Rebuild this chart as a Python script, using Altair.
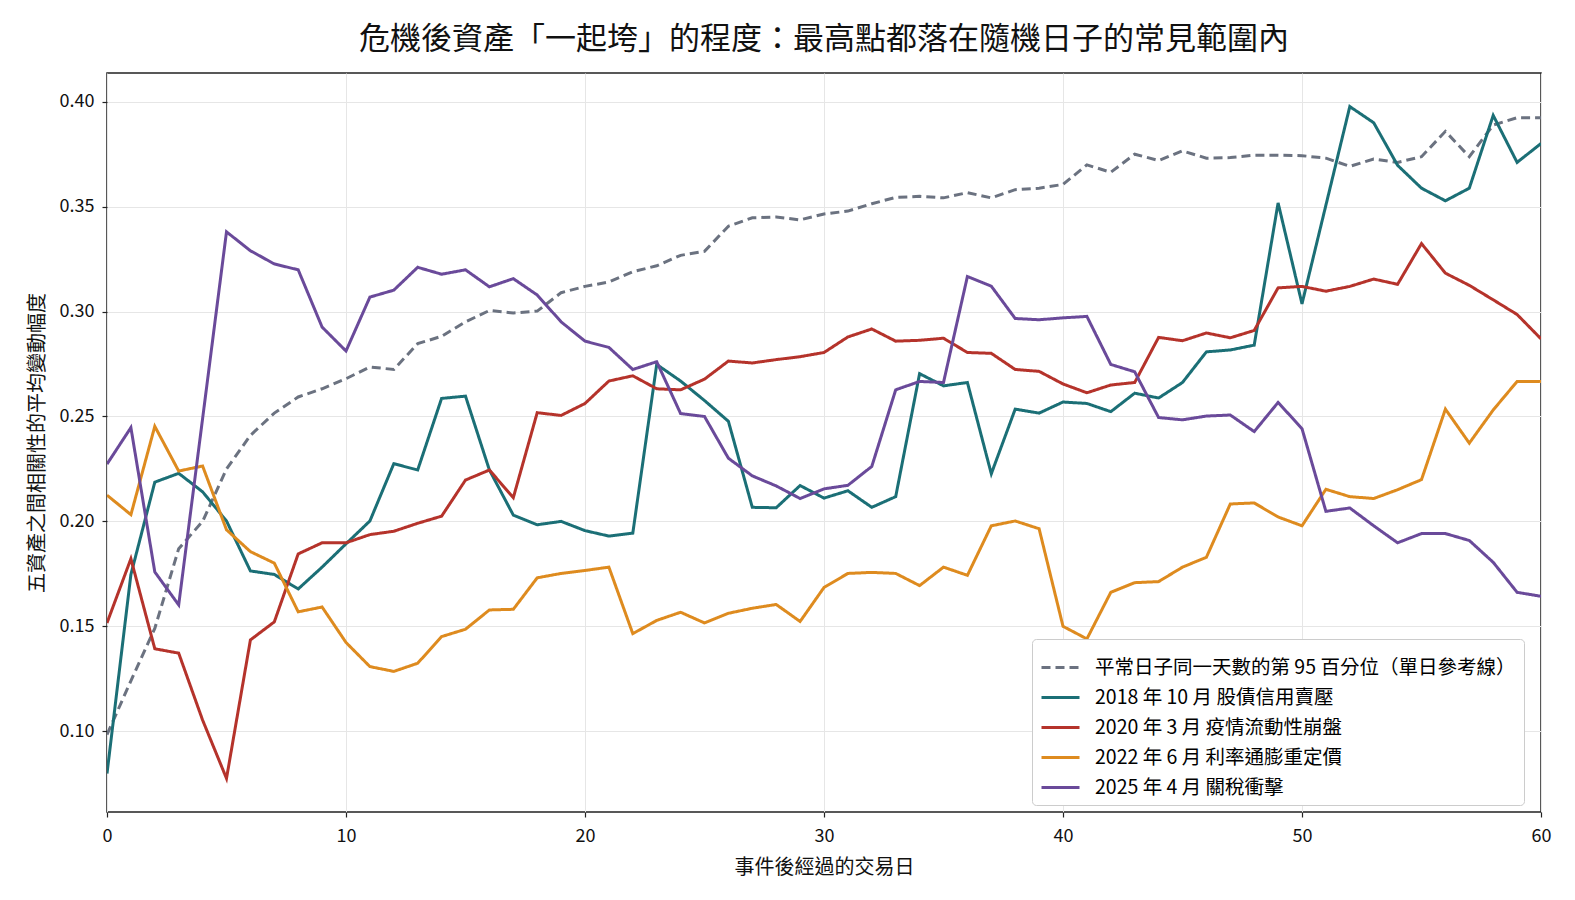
import altair as alt
import pandas as pd

days = list(range(61))

names = [
    "平常日子同一天數的第 95 百分位（單日參考線）",
    "2018 年 10 月 股債信用賣壓",
    "2020 年 3 月 疫情流動性崩盤",
    "2022 年 6 月 利率通膨重定價",
    "2025 年 4 月 關稅衝擊",
]
colors = ["#6b7280", "#1b6f76", "#b5332b", "#de8b1f", "#6a4a9a"]

ref_p95 = [0.0984, 0.124, 0.149, 0.187, 0.200, 0.225, 0.241, 0.2516, 0.2593, 0.2632,
           0.268, 0.2736, 0.2724, 0.2847, 0.2882, 0.2951, 0.3005, 0.2993, 0.3002, 0.309,
           0.312, 0.3141, 0.319, 0.3218, 0.3268, 0.3287, 0.3407, 0.3447, 0.3451, 0.3437,
           0.3465, 0.3479, 0.3514, 0.3544, 0.3549, 0.3542, 0.3567, 0.3542, 0.3581, 0.3588,
           0.3606, 0.3699, 0.3664, 0.375, 0.372, 0.3766, 0.3731, 0.3734, 0.3745, 0.3745,
           0.3743, 0.3731, 0.3692, 0.3727, 0.3711, 0.3738, 0.3859, 0.3738, 0.3889, 0.3924,
           0.3924]

s2018 = [0.0798, 0.1747, 0.2187, 0.2229, 0.2141, 0.2002, 0.1764, 0.1747, 0.1678, 0.1782,
         0.1893, 0.2002, 0.2275, 0.2245, 0.2586, 0.2597, 0.2245, 0.203, 0.1984, 0.2,
         0.1956, 0.193, 0.1944, 0.2748, 0.2669, 0.2576, 0.2477, 0.2067, 0.2065, 0.2171,
         0.2111, 0.2146, 0.2067, 0.2118, 0.2704, 0.2646, 0.2662, 0.2227, 0.2535, 0.2516,
         0.2569, 0.2562, 0.2523, 0.2611, 0.2588, 0.2662, 0.2808, 0.2817, 0.284, 0.3518,
         0.3037, 0.3507, 0.3977, 0.39, 0.3697, 0.3588, 0.3528, 0.3588, 0.3935, 0.3711,
         0.3801]

s2020 = [0.1516, 0.1822, 0.1393, 0.1372, 0.1053, 0.0775, 0.1435, 0.1521, 0.1845, 0.1898,
         0.1898, 0.1937, 0.1953, 0.1991, 0.2025, 0.2197, 0.2245, 0.2113, 0.2518, 0.2505,
         0.2562, 0.2669, 0.2694, 0.2632, 0.2627, 0.2678, 0.2764, 0.2755, 0.2771, 0.2785,
         0.2805, 0.2879, 0.2917, 0.2859, 0.2863, 0.2873, 0.2805, 0.2801, 0.2724, 0.2715,
         0.2655, 0.2613, 0.265, 0.2662, 0.2877, 0.2861, 0.2898, 0.2875, 0.291, 0.3113,
         0.312, 0.3097, 0.312, 0.3155, 0.313, 0.3324, 0.3183, 0.3125, 0.3056, 0.2986,
         0.287]

s2022 = [0.2125, 0.2032, 0.2453, 0.224, 0.2264, 0.196, 0.1856, 0.1801, 0.1569, 0.1592,
         0.1423, 0.1308, 0.1285, 0.1324, 0.1451, 0.1486, 0.1578, 0.1581, 0.1731, 0.1752,
         0.1766, 0.1782, 0.1465, 0.1528, 0.1567, 0.1516, 0.1562, 0.1586, 0.1604, 0.1523,
         0.1685, 0.1752, 0.1757, 0.1752, 0.1694, 0.1782, 0.1743, 0.1979, 0.2002, 0.1965,
         0.15, 0.144, 0.1662, 0.1708, 0.1713, 0.1782, 0.1829, 0.2083, 0.2088, 0.2021,
         0.1979, 0.2153, 0.2118, 0.2109, 0.2151, 0.2199, 0.2535, 0.2373, 0.2531, 0.2667,
         0.2667]

s2025 = [0.2273, 0.2447, 0.1759, 0.1602, 0.249, 0.338, 0.329, 0.3227, 0.3199, 0.2926,
         0.2812, 0.3069, 0.3102, 0.3211, 0.3178, 0.3199, 0.3118, 0.3157, 0.3079, 0.2951,
         0.2859, 0.2829, 0.2724, 0.2761, 0.2514, 0.25, 0.2301, 0.2217, 0.2169, 0.2109,
         0.2155, 0.2172, 0.2262, 0.2627, 0.2667, 0.2662, 0.3167, 0.3121, 0.2967, 0.2961,
         0.297, 0.2977, 0.2748, 0.2713, 0.2495, 0.2484, 0.2502, 0.2507, 0.2428, 0.2567,
         0.2442, 0.2048, 0.2064, 0.1979, 0.1898, 0.1942, 0.1942, 0.1909, 0.1805, 0.1662,
         0.1643]

series = [ref_p95, s2018, s2020, s2022, s2025]

rows = []
for name, vals in zip(names, series):
    for d, v in zip(days, vals):
        rows.append({"day": d, "value": v, "series": name})
df = pd.DataFrame(rows)

FONT = "Noto Sans CJK TC"

chart = alt.Chart(df).mark_line(strokeWidth=3, clip=True).encode(
    x=alt.X("day:Q",
            scale=alt.Scale(domain=[0, 60], nice=False, zero=False),
            axis=alt.Axis(title="事件後經過的交易日", values=[0, 10, 20, 30, 40, 50, 60],
                          format="d", titlePadding=12, labelPadding=10, labelFlush=False)),
    y=alt.Y("value:Q",
            scale=alt.Scale(domain=[0.0615, 0.4137], nice=False, zero=False),
            axis=alt.Axis(title="五資產之間相關性的平均變動幅度",
                          values=[0.10, 0.15, 0.20, 0.25, 0.30, 0.35, 0.40],
                          format=".2f", titlePadding=12, labelPadding=8)),
    color=alt.Color("series:N",
                    scale=alt.Scale(domain=names, range=colors),
                    sort=names,
                    legend=alt.Legend(title=None, orient="none", legendX=925, legendY=566,
                                      symbolType="stroke", symbolStrokeWidth=3,
                                      symbolSize=1444, labelFontSize=19.5, labelFont=FONT,
                                      labelLimit=700, rowPadding=0,
                                      strokeColor="#cccccc", fillColor="white",
                                      cornerRadius=4, padding=8, labelOffset=14)),
    strokeDash=alt.StrokeDash("series:N",
                              scale=alt.Scale(domain=names,
                                              range=[[9, 5], [1, 0], [1, 0], [1, 0], [1, 0]]),
                              sort=names, legend=None),
    order=alt.Order("day:Q"),
).properties(
    width=1434,
    height=739,
    title=alt.TitleParams("危機後資產「一起垮」的程度：最高點都落在隨機日子的常見範圍內",
                          fontSize=31, font=FONT, fontWeight="normal", color="#111111",
                          anchor="middle", offset=17),
    autosize=alt.AutoSizeParams(type="none"),
    padding={"left": 107, "top": 73, "right": 34, "bottom": 88},
).configure_view(
    stroke="#222222", strokeWidth=1.5
).configure_axis(
    labelFont=FONT, titleFont=FONT, labelFontSize=18, titleFontSize=20,
    titleFontWeight="normal", labelColor="#111111", titleColor="#111111",
    gridColor="#e6e6e6", gridWidth=1, domain=False,
    tickColor="#222222", tickSize=5, tickWidth=1.2,
)

chart.save("out.html", embed_options={"renderer": "svg", "actions": False})
